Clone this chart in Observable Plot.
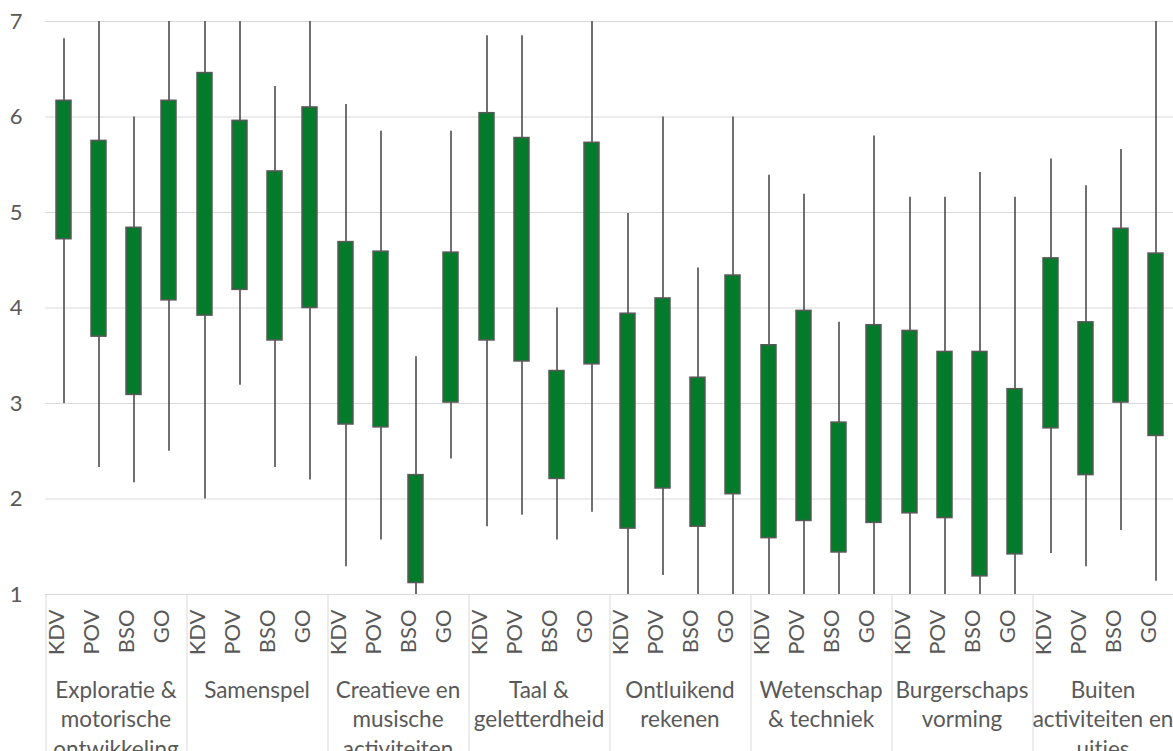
<!DOCTYPE html>
<html><head><meta charset="utf-8">
<script src="https://cdn.jsdelivr.net/npm/d3@7"></script>
<script src="https://cdn.jsdelivr.net/npm/@observablehq/plot@0.6"></script>
<style>body{margin:0;background:#fff}</style>
</head><body><div id="chart"></div>
<script>
const groups = [
  "Exploratie &\nmotorische\nontwikkeling",
  "Samenspel",
  "Creatieve en\nmusische\nactiviteiten",
  "Taal &\ngeletterdheid",
  "Ontluikend\nrekenen",
  "Wetenschap\n& techniek",
  "Burgerschaps\nvorming",
  "Buiten\nactiviteiten en\nuitjes"
];
const subs = ["KDV", "POV", "BSO", "GO"];
const highs = [
  6.82, 7.00, 6.00, 7.00,
  7.00, 7.00, 6.32, 7.00,
  6.13, 5.85, 3.49, 5.85,
  6.85, 6.85, 4.00, 7.00,
  4.99, 6.00, 4.42, 6.00,
  5.39, 5.19, 3.85, 5.80,
  5.16, 5.16, 5.42, 5.16,
  5.56, 5.28, 5.66, 7.00
];
const boxTops = [
  6.17, 5.75, 4.84, 6.17,
  6.46, 5.96, 5.43, 6.10,
  4.69, 4.59, 2.25, 4.58,
  6.04, 5.78, 3.34, 5.73,
  3.94, 4.10, 3.27, 4.34,
  3.61, 3.97, 2.80, 3.82,
  3.76, 3.54, 3.54, 3.15,
  4.52, 3.85, 4.83, 4.57
];
const boxBottoms = [
  4.72, 3.70, 3.09, 4.08,
  3.92, 4.19, 3.66, 4.00,
  2.78, 2.75, 1.12, 3.01,
  3.66, 3.44, 2.21, 3.41,
  1.69, 2.11, 1.71, 2.05,
  1.59, 1.77, 1.44, 1.75,
  1.85, 1.80, 1.19, 1.42,
  2.74, 2.25, 3.01, 2.66
];
const lows = [
  3.00, 2.33, 2.17, 2.50,
  2.00, 3.19, 2.33, 2.20,
  1.29, 1.57, 1.00, 2.42,
  1.71, 1.83, 1.57, 1.86,
  1.00, 1.20, 1.00, 1.00,
  1.00, 1.00, 1.00, 1.00,
  1.00, 1.00, 1.00, 1.00,
  1.43, 1.29, 1.67, 1.14
];
const yTicks = [1, 2, 3, 4, 5, 6, 7];

const rows = [];
groups.forEach((g, gi) => subs.forEach((s, si) => {
  const i = gi * subs.length + si;
  rows.push({group: g, sub: s, high: highs[i], top: boxTops[i], bottom: boxBottoms[i], low: lows[i]});
}));

// group separator lines below the plot frame, at each facet's left edge
const separators = (index, scales, values, dimensions) => {
  const x0 = scales.x(subs[0]);
  return d3.create("svg:line")
    .attr("x1", x0).attr("x2", x0)
    .attr("y1", dimensions.height - dimensions.marginBottom)
    .attr("y2", dimensions.height)
    .attr("stroke", "#d9d9d9")
    .node();
};

const chart = Plot.plot({
  width: 1173, height: 751,
  marginLeft: 45, marginRight: 0, marginTop: 21, marginBottom: 157,
  style: {fontFamily: "Lato, sans-serif", fontSize: "22px", color: "#595959", background: "#fff", overflow: "visible"},
  fx: {domain: groups, padding: 0, axis: null},
  x: {domain: subs, padding: 0, axis: null},
  y: {domain: [1, 7], axis: null},
  marks: [
    Plot.gridY(yTicks, {stroke: "#d9d9d9", strokeOpacity: 1, strokeWidth: 1}),
    Plot.axisY(yTicks, {tickSize: 0, tickPadding: 23, label: null, fontSize: 22, tickFormat: d => String(d)}),
    separators,
    Plot.text(subs, {x: d => d, text: d => d, frameAnchor: "bottom", rotate: -90, textAnchor: "end", dy: 15, fontSize: 22}),
    Plot.text(groups, {fx: d => d, text: d => d, frameAnchor: "bottom", lineAnchor: "top", dy: 82, lineHeight: 1.32, fontSize: 22.5}),
    Plot.ruleX(rows, {fx: "group", x: "sub", y1: "low", y2: "high", stroke: "#404040", strokeWidth: 1.5}),
    Plot.barY(rows, {fx: "group", x: "sub", y1: "bottom", y2: "top", fill: "#047a2b", stroke: "#595959", strokeWidth: 1.5, insetLeft: 10, insetRight: 10})
  ]
});
document.getElementById("chart").append(chart);
</script>
</body></html>
